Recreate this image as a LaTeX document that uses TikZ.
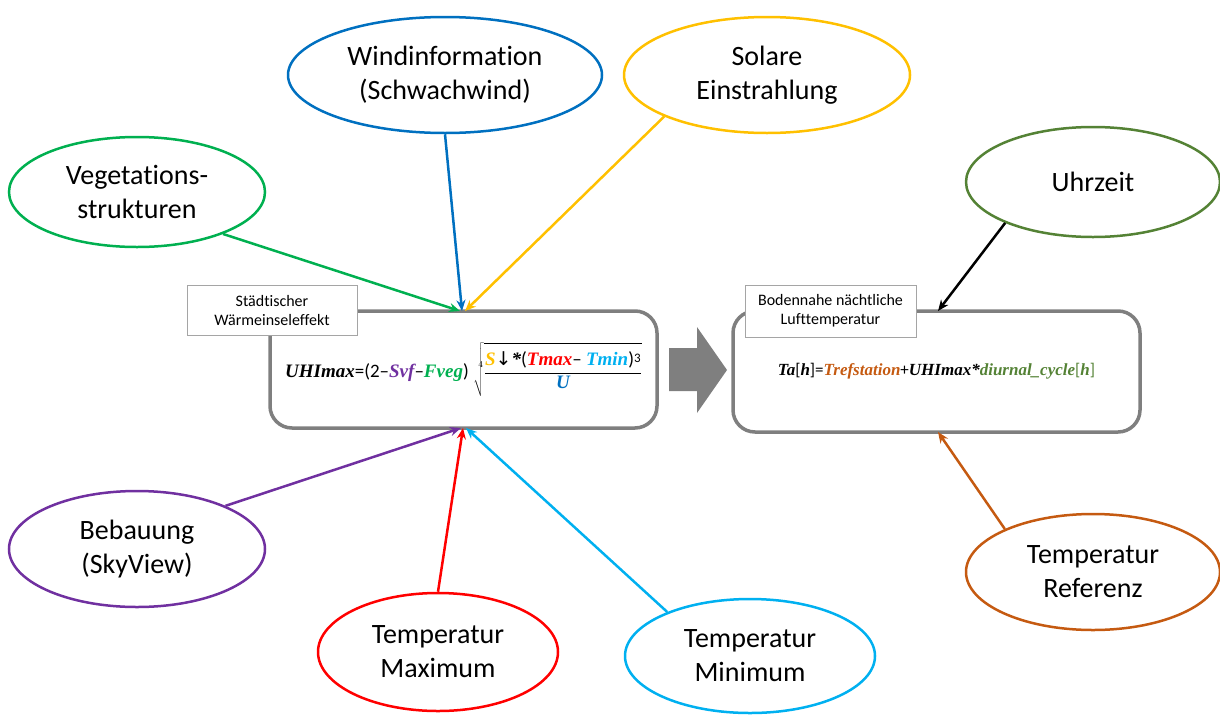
\documentclass[tikz,border=0pt]{standalone}
\usepackage{fontspec}
\setmainfont[Ligatures=NoCommon]{Carlito}
\newfontfamily\mfont{Liberation Serif}
\newfontfamily\arrfont{DejaVu Sans}
\usetikzlibrary{shapes.geometric,arrows.meta}
\definecolor{cblue}{RGB}{0,112,192}
\definecolor{cgold}{RGB}{255,192,0}
\definecolor{cgreen}{RGB}{0,176,80}
\definecolor{cpurple}{RGB}{112,48,160}
\definecolor{cred}{RGB}{255,0,0}
\definecolor{ccyan}{RGB}{0,176,240}
\definecolor{corange}{RGB}{197,90,17}
\definecolor{cdgreen}{RGB}{84,130,53}
\definecolor{cgray}{RGB}{127,127,127}
\definecolor{clgray}{RGB}{165,165,165}
\newcommand{\fm}[1]{{\mfont\bfseries\itshape #1}}
\begin{document}
\begin{tikzpicture}[x=1pt,y=-1pt,
  ell/.style={ellipse,draw=#1,line width=2.5pt,inner sep=0pt,align=center,
    font=\fontsize{28}{34}\selectfont},
  conn/.style={draw=#1,line width=2.5pt,-{Stealth[length=11pt,width=9pt]}},
  mainbox/.style={draw=cgray,line width=3.5pt,rounded corners=22pt,inner sep=0pt},
  labelbox/.style={draw=clgray,line width=1pt,fill=white,align=center,inner sep=0pt,
    font=\fontsize{16}{19}\selectfont}]
\useasboundingbox (0,0) rectangle (1220,715);

% main boxes
\node[mainbox,minimum width=387pt,minimum height=117pt,font=\fontsize{19}{22}\selectfont] (lbox) at (463.5,369.5)
{$\mbox{\fm{UHImax}=(2–\textcolor{cpurple}{\fm{Svf}}–\textcolor{cgreen}{\fm{Fveg}})}\;
\sqrt[4]{\displaystyle\frac{\mbox{\rule{0pt}{20pt}\textcolor{cgold}{\fm{S}}{\arrfont ↓}\fm{*}(\textcolor{cred}{\fm{Tmax}}– \textcolor{ccyan}{\fm{Tmin}})\raisebox{0.3ex}{\fontsize{13}{15}\selectfont 3}}}{\mbox{\rule[-6pt]{0pt}{18pt}\textcolor{cblue}{\fm{U}}}}}$};
\node[mainbox,minimum width=407pt,minimum height=121pt,font=\fontsize{17}{20}\selectfont] (rbox) at (936.5,371.5)
{\fm{Ta}[\fm{h}]=\textcolor{corange}{\fm{Trefstation}}+\fm{UHImax}\fm{*}\textcolor{cdgreen}{\fm{diurnal\_cycle}[\fm{h}]}};

\node[labelbox,minimum width=170pt,minimum height=50pt] (llab) at (272,310) {Städtischer\\Wärmeinseleffekt};
\node[labelbox,minimum width=171pt,minimum height=52pt] (rlab) at (830.5,311) {Bodennahe nächtliche\\Lufttemperatur};

% block arrow
\fill[cgray] (669,348) -- (697,348) -- (697,327) -- (727,370) -- (697,413) -- (697,391) -- (669,391) -- cycle;

% ellipses
\node[ell=cblue,minimum width=314pt,minimum height=116pt] (wind) at (445,75) {Windinformation\\(Schwachwind)};
\node[ell=cgold,minimum width=286pt,minimum height=116pt] (solar) at (767,75) {Solare\\Einstrahlung};
\node[ell=cgreen,minimum width=256pt,minimum height=110pt] (veg) at (137,192) {Vegetations-\\strukturen};
\node[ell=cdgreen,minimum width=254pt,minimum height=110pt] (uhr) at (1093,182) {Uhrzeit};
\node[ell=cpurple,minimum width=256pt,minimum height=116pt] (beb) at (137,549) {Bebauung\\(SkyView)};
\node[ell=cred,minimum width=240pt,minimum height=118pt] (tmax) at (438,652) {Temperatur\\Maximum};
\node[ell=ccyan,minimum width=250pt,minimum height=114pt] (tmin) at (750,656) {Temperatur\\Minimum};
\node[ell=corange,minimum width=254pt,minimum height=116pt] (tref) at (1093,572) {Temperatur\\Referenz};

% arrow targets
\coordinate (lt1) at (460,311);
\coordinate (lt2) at (462,311);
\coordinate (lt3) at (465,311);
\coordinate (lb1) at (461,428);
\coordinate (lb2) at (463,428);
\coordinate (lb3) at (466,428);
\coordinate (rt) at (938,311);
\coordinate (rb) at (938,432);

\draw[conn=cgreen] (veg.-26) -- (lt1);
\draw[conn=cblue] (wind.south) -- (lt2);
\draw[conn=cgold] (solar.-158) -- (lt3);
\draw[conn=cpurple] (beb.26) -- (lb1);
\draw[conn=cred] (tmax.north) -- (lb2);
\draw[conn=ccyan] (tmin.152) -- (lb3);
\draw[conn=black] (uhr.-155) -- (rt);
\draw[conn=corange] (tref.154) -- (rb);
\end{tikzpicture}
\end{document}
